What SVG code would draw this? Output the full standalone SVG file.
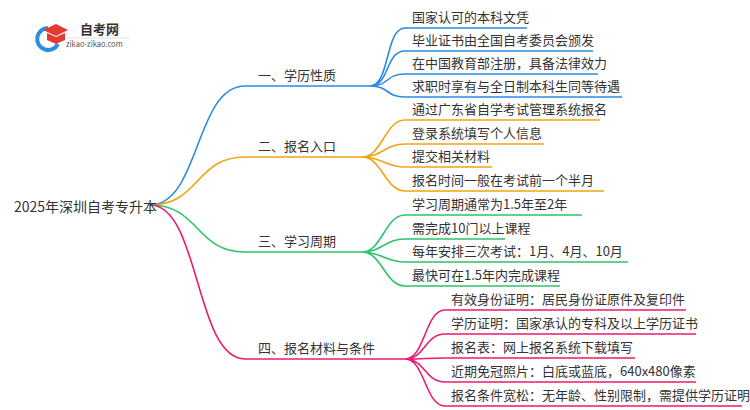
<svg xmlns="http://www.w3.org/2000/svg" width="750" height="410" viewBox="0 0 750 410">
<style>
text{font-family:"Noto Sans CJK SC","Noto Sans",sans-serif;font-size:13px;fill:#333}
.c{fill:none;stroke-width:1.6}
.b{stroke:#2b8ae8}.o{stroke:#f0a412}.g{stroke:#2dc36a}.p{stroke:#ec1a70}
</style>
<rect width="750" height="410" fill="#fff"/>
<g id="logo">
<path d="M48 28 A11 11 0 1 0 58 44" fill="none" stroke="#2a8ee0" stroke-width="4"/>
<path d="M43 30 L56 24 L68 30 L56 36 Z M47 33 L47 40 L56 44 L65 40 L65 33 L56 37 Z" fill="#e53935"/>
<text x="80" y="34" style="font-size:13px;font-weight:bold">自考网</text>
<line x1="66" y1="38" x2="130" y2="38" stroke="#ccc" stroke-width="0.6"/>
<text x="66" y="47" style="font-size:7.5px;fill:#555">zikao-zikao.com</text>
</g>
<g id="connectors">
<path class="c b" d="M150 205 C200 205 195 86 245 86 L370 86"/>
<path class="c o" d="M150 205 C200 205 195 157 245 157 L362 157"/>
<path class="c g" d="M150 205 C200 205 195 252 245 252 L362 252"/>
<path class="c p" d="M150 205 C200 205 195 359 245 359 L405 359"/>
<path class="c b" d="M370 86 C390 86 385 28 405 28 L527 28 M370 86 C390 86 385 51 405 51 L593 51 M370 86 C390 86 385 74 405 74 L598 74 M370 86 C390 86 385 97 405 97 L622 97"/>
<path class="c o" d="M362 157 C382 157 385 120 405 120 L600 120 M362 157 C382 157 385 144 405 144 L544 144 M362 157 C382 157 385 167 405 167 L492 167 M362 157 C382 157 385 191 405 191 L604 191"/>
<path class="c g" d="M362 252 C382 252 385 215 405 215 L582 215 M362 252 C382 252 385 239 405 239 L505 239 M362 252 C382 252 385 262 405 262 L628 262 M362 252 C382 252 385 286 405 286 L560 286"/>
<path class="c p" d="M405 359 C425 359 425 310 445 310 L686 310 M405 359 C425 359 425 334 445 334 L696 334 M405 359 C425 359 425 358 445 358 L635 358 M405 359 C425 359 425 382 445 382 L696 382 M405 359 C425 359 425 406 445 406 L742 406"/>
</g>
<g id="root"><text x="14" y="212" style="font-size:14px">2025年深圳自考专升本</text></g>
<g id="n1"><text x="258" y="80">一、学历性质</text>
<text x="412" y="22">国家认可的本科文凭</text><text x="412" y="45">毕业证书由全国自考委员会颁发</text><text x="412" y="68">在中国教育部注册，具备法律效力</text><text x="412" y="91">求职时享有与全日制本科生同等待遇</text></g>
<g id="n2"><text x="258" y="151">二、报名入口</text>
<text x="412" y="114">通过广东省自学考试管理系统报名</text><text x="412" y="138">登录系统填写个人信息</text><text x="412" y="161">提交相关材料</text><text x="412" y="185">报名时间一般在考试前一个半月</text></g>
<g id="n3"><text x="258" y="246">三、学习周期</text>
<text x="412" y="209">学习周期通常为1.5年至2年</text><text x="412" y="233">需完成10门以上课程</text><text x="412" y="256">每年安排三次考试：1月、4月、10月</text><text x="412" y="280">最快可在1.5年内完成课程</text></g>
<g id="n4"><text x="258" y="353">四、报名材料与条件</text>
<text x="451" y="304">有效身份证明：居民身份证原件及复印件</text><text x="451" y="328">学历证明：国家承认的专科及以上学历证书</text><text x="451" y="352">报名表：网上报名系统下载填写</text><text x="451" y="376">近期免冠照片：白底或蓝底，640x480像素</text><text x="451" y="400">报名条件宽松：无年龄、性别限制，需提供学历证明</text></g>
</svg>
